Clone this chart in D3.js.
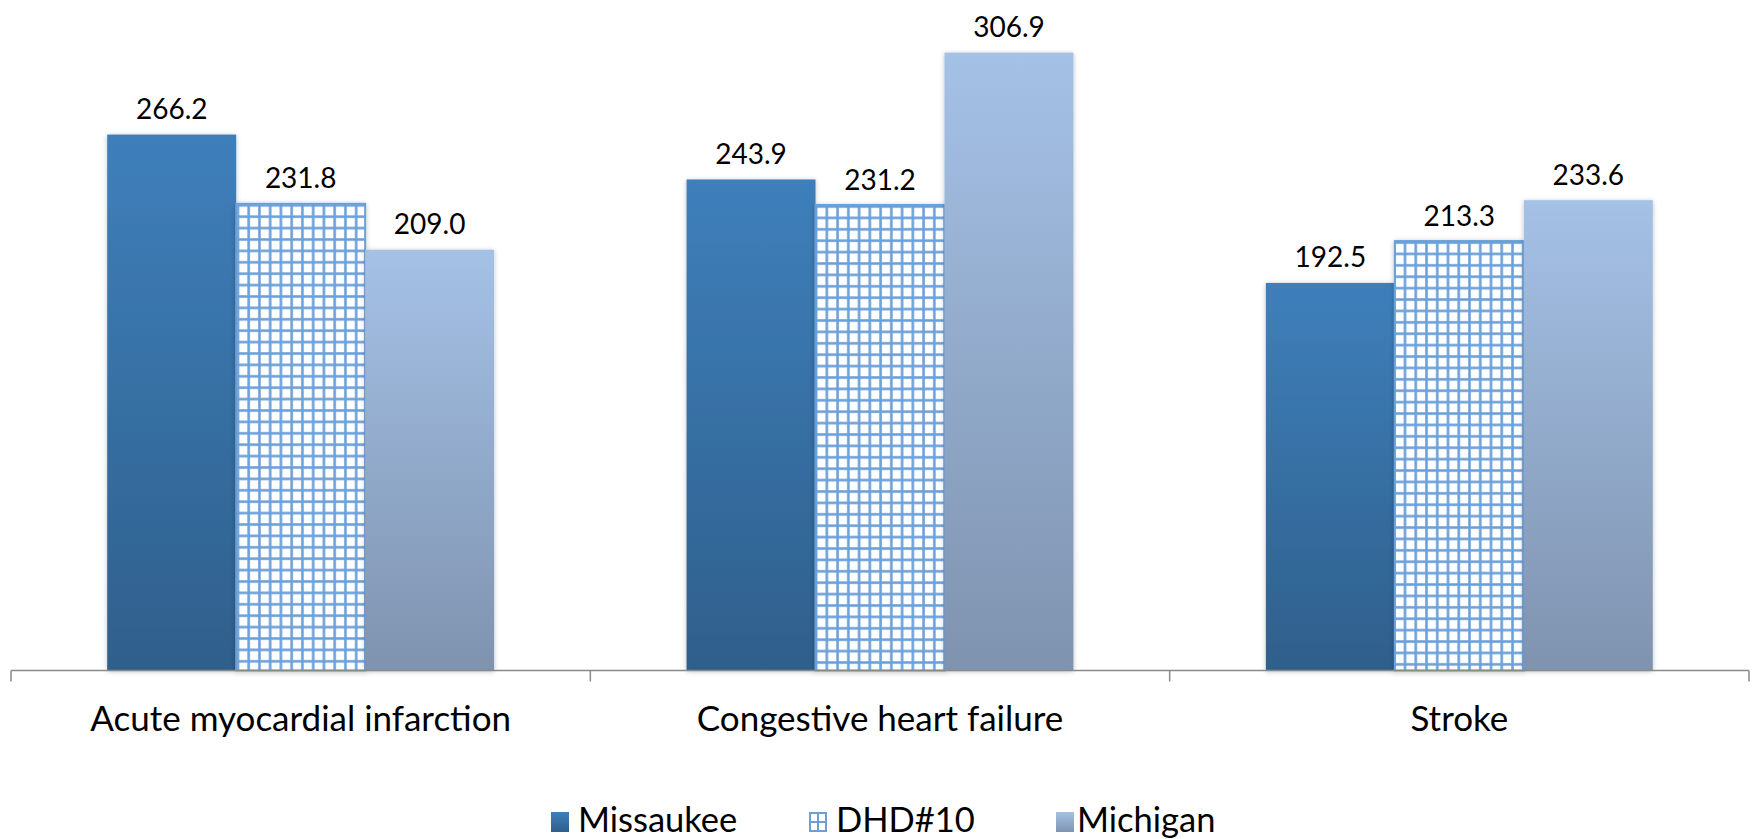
<!DOCTYPE html>
<html>
<head>
<meta charset="utf-8">
<script src="https://cdn.jsdelivr.net/npm/d3@7"></script>
<style>
  body { margin: 0; background: #fff; }
  svg text { font-family: Lato, "Noto Sans", sans-serif; fill: #000; }
</style>
</head>
<body>
<svg id="chart" width="1758" height="839"></svg>
<script>
const categories = ['Acute myocardial infarction', 'Congestive heart failure', 'Stroke'];
const series = ['Missaukee', 'DHD#10', 'Michigan'];
const missaukee = [266.2, 243.9, 192.5];
const dhd10 = [231.8, 231.2, 213.3];
const michigan = [209.0, 306.9, 233.6];
const values = [missaukee, dhd10, michigan];

const svg = d3.select('#chart');
const defs = svg.append('defs');

const baseY = 670.5;
const x0 = d3.scaleBand().domain(categories).range([11, 1749]);
const x1 = d3.scaleBand().domain(series).range([0, x0.bandwidth()]).paddingOuter(0.746);
const y = d3.scaleLinear().domain([0, 300]).range([baseY, baseY - 604]);

function gradient(id, top, bottom) {
  const g = defs.append('linearGradient').attr('id', id)
    .attr('x1', 0).attr('y1', 0).attr('x2', 0).attr('y2', 1);
  g.append('stop').attr('offset', '0%').attr('stop-color', top);
  g.append('stop').attr('offset', '100%').attr('stop-color', bottom);
}
gradient('g-miss', '#3e7fbb', '#2f5f8b');
gradient('g-mich', '#a4c1e6', '#7f93af');

const shadow = defs.append('filter').attr('id', 'shadow')
  .attr('x', '-10%').attr('y', '-5%').attr('width', '120%').attr('height', '110%');
shadow.append('feDropShadow').attr('dx', 0).attr('dy', 1)
  .attr('stdDeviation', 2.5).attr('flood-color', '#000').attr('flood-opacity', 0.25);

// grid pattern for DHD#10, one per bar so the grid starts at the bar edge
function gridPattern(id, px, py) {
  const p = defs.append('pattern').attr('id', id)
    .attr('patternUnits', 'userSpaceOnUse')
    .attr('x', px).attr('y', py)
    .attr('width', 10.75).attr('height', 11.4);
  p.append('rect').attr('width', 10.75).attr('height', 11.4).attr('fill', '#fff');
  p.append('rect').attr('x', 0).attr('y', 0).attr('width', 3).attr('height', 11.4).attr('fill', '#a9c8ec');
  p.append('rect').attr('x', 0).attr('y', 0).attr('width', 10.75).attr('height', 3).attr('fill', '#a9c8ec');
  p.append('rect').attr('x', 0.5).attr('y', 0).attr('width', 2).attr('height', 11.4).attr('fill', '#6a9fd8');
  p.append('rect').attr('x', 0).attr('y', 0.5).attr('width', 10.75).attr('height', 2).attr('fill', '#6a9fd8');
}

const fills = {
  'Missaukee': () => 'url(#g-miss)',
  'Michigan': () => 'url(#g-mich)'
};

const groups = svg.append('g').selectAll('g')
  .data(categories)
  .join('g')
  .attr('transform', d => `translate(${x0(d)},0)`);

groups.each(function(cat, ci) {
  const g = d3.select(this);
  series.forEach((s, si) => {
    const v = values[si][ci];
    const bx = x1(s);
    const by = y(v);
    let fill;
    if (s === 'DHD#10') {
      const id = `grid-${ci}`;
      gridPattern(id, x0(cat) + bx, by);
      fill = `url(#${id})`;
    } else {
      fill = fills[s]();
    }
    const r = g.append('rect')
      .attr('x', bx).attr('y', by)
      .attr('width', x1.bandwidth()).attr('height', baseY - by)
      .attr('fill', fill)
      .attr('filter', 'url(#shadow)');
    if (s === 'DHD#10') {
      r.attr('stroke', '#6a9fd8').attr('stroke-width', 2);
    }
    g.append('text')
      .attr('x', bx + x1.bandwidth() / 2)
      .attr('y', by - 15.5)
      .attr('text-anchor', 'middle')
      .attr('font-size', 28)
      .text(v.toFixed(1));
  });
});

// axis
const axis = svg.append('g').attr('transform', `translate(0,${baseY})`)
  .call(d3.axisBottom(x0).tickSize(0).tickPadding(36));
axis.select('.domain').remove();
axis.selectAll('text').attr('font-size', 35).attr('font-family', 'Lato, sans-serif');

svg.append('line')
  .attr('x1', x0.range()[0]).attr('x2', x0.range()[1])
  .attr('y1', baseY).attr('y2', baseY)
  .attr('stroke', '#898989').attr('stroke-width', 1.5);
const bounds = categories.map(c => x0(c)).concat([x0.range()[1]]);
svg.append('g').selectAll('line')
  .data(bounds)
  .join('line')
  .attr('x1', d => d).attr('x2', d => d)
  .attr('y1', baseY).attr('y2', baseY + 11)
  .attr('stroke', '#898989').attr('stroke-width', 1.5);

// legend
const legendX = [551, 809, 1056];
const legend = svg.append('g').selectAll('g')
  .data(series)
  .join('g')
  .attr('transform', (d, i) => `translate(${legendX[i]},812)`);

legend.each(function(s) {
  const g = d3.select(this);
  if (s === 'DHD#10') {
    g.append('rect').attr('x', 1).attr('y', 1).attr('width', 16).attr('height', 18)
      .attr('fill', '#fff').attr('stroke', '#6a9fd8').attr('stroke-width', 2);
    g.append('line').attr('x1', 9).attr('x2', 9).attr('y1', 1).attr('y2', 19)
      .attr('stroke', '#6a9fd8').attr('stroke-width', 2);
    g.append('line').attr('x1', 1).attr('x2', 17).attr('y1', 10).attr('y2', 10)
      .attr('stroke', '#6a9fd8').attr('stroke-width', 2);
  } else {
    g.append('rect').attr('width', 18).attr('height', 20).attr('fill', fills[s]());
  }
  g.append('text')
    .attr('x', s === 'Michigan' ? 21 : 27)
    .attr('y', 20)
    .attr('font-size', 34.5)
    .text(s);
});
</script>
</body>
</html>
